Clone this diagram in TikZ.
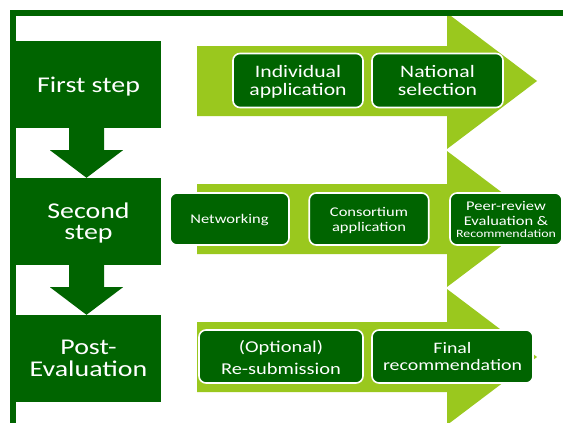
\documentclass[tikz,border=0pt]{standalone}
\usepackage{fontspec}
\setmainfont{Carlito}
\usetikzlibrary{calc}
\definecolor{dkgreen}{RGB}{0,100,0}
\definecolor{ltgreen}{RGB}{154,200,30}
\newcommand\stxt[3]{\scalebox{1.24}[1]{\fontsize{#1}{#2}\selectfont\raisebox{-0.14em}[\height][\depth]{\begin{tabular}{@{}c@{}}#3\end{tabular}}}}
\newcommand\downarr[2]{\fill[downarrow] ($(#1.south)+(-19.5,0)$) -- ++(35,0) -- ++(0,22) -- ++(19,0) -- ($(#2.north)+(-2,0)$) -- ($(#1.south)+(-38.5,22)$) -- ++(19,0) -- cycle;}
\newcommand\bigarr[1]{\fill[bigarrow] (197,#1-35) -- (447,#1-35) -- (447,#1-68) -- (537,#1) -- (447,#1+68) -- (447,#1+35) -- (197,#1+35) -- cycle;}
\begin{document}
\begin{tikzpicture}[x=1pt,y=-1pt,
  stepbox/.style={fill=dkgreen, text=white, minimum width=145pt, minimum height=87pt, inner sep=0pt},
  taskbox/.style={fill=dkgreen, draw=white, line width=1.6pt, rounded corners=7pt, text=white, minimum height=54pt, inner sep=0pt},
  bigarrow/.style={fill=ltgreen},
  downarrow/.style={fill=dkgreen},
  frame/.style={fill=dkgreen}]
\useasboundingbox (0,0) rectangle (563,423);
\fill[white] (0,0) rectangle (563,423);
% light green process arrows
\bigarr{81}
\bigarr{219}
\bigarr{357}
% step boxes
\node[stepbox] (s1) at (88.5,84.5) {\stxt{22.5}{21}{First step}};
\node[stepbox] (s2) at (88.5,221.5) {\stxt{22.5}{21}{Second\\step}};
\node[stepbox] (s3) at (88.5,358.5) {\stxt{22.5}{21}{Post-\\Evaluation}};
\downarr{s1}{s2}
\downarr{s2}{s3}
% tasks
\node[taskbox, minimum width=130pt] (a1) at (298,80.5) {\stxt{17.5}{18}{Individual\\application}};
\node[taskbox, minimum width=131pt] (a2) at (437.5,80.5) {\stxt{17.5}{18}{National\\selection}};
\node[taskbox, minimum width=119pt, minimum height=52pt] (b1) at (229.5,219) {\stxt{13.3}{15}{Networking}};
\node[taskbox, minimum width=119.5pt, minimum height=52pt] (b2) at (369,219) {\stxt{13.3}{15}{Consortium\\application}};
\node[taskbox, minimum width=112pt, minimum height=52pt] (b3) at (506,219) {\stxt{13.3}{15}{Peer-review\\Evaluation \&\\[-3pt]{\fontsize{11.2}{12}\selectfont Recommendation}}};
\node[taskbox, minimum width=164pt, minimum height=53pt] (c1) at (281,356.5) {\stxt{16.5}{22}{(Optional)\\Re-submission}};
\node[taskbox, minimum width=161pt, minimum height=53pt] (c2) at (452.5,356.5) {\stxt{16}{17}{Final\\recommendation}};
% frame
\fill[frame] (10,10) rectangle (563,16);
\fill[frame] (10,10) rectangle (16,423);
\end{tikzpicture}
\end{document}
